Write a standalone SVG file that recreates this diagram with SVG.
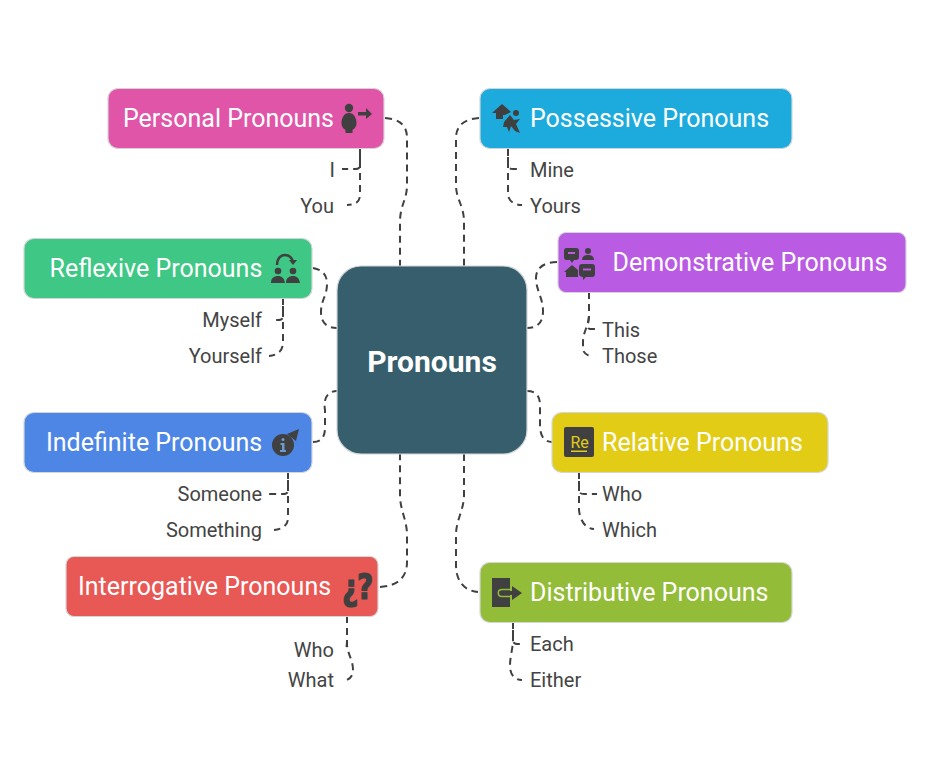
<svg xmlns="http://www.w3.org/2000/svg" width="936" height="780" viewBox="0 0 936 780">
<style>
.n{stroke:#d3d6d8;stroke-width:1.2}
.t{font-family:Roboto,"Liberation Sans",sans-serif;font-size:25px;fill:#fff}
.s{font-family:Roboto,"Liberation Sans",sans-serif;font-size:20px;fill:#444}
.e{text-anchor:end}
.c{fill:none;stroke:#404040;stroke-width:2;stroke-dasharray:7 5}
.i{fill:#404040}
.q{font-family:"DejaVu Sans",sans-serif;font-size:36px;font-weight:700;fill:#404040;stroke:#404040;stroke-width:1.200px}
</style>
<rect width="936" height="780" fill="#fff"/>
<g id="connectors">
<path class="c" d="M385 118C398 119 407 124 407 138V185C407 200 400 205 400 222V266"/>
<path class="c" d="M479 118C465 119 456 125 456 138V185C456 200 464 205 464 222V266"/>
<path class="c" d="M313 268C323 270 327 275 327 284C327 296 321 300 321 312C321 323 327 328 337 328"/>
<path class="c" d="M313 442C322 442 325 436 325 428V410C323 398 328 391 337 391"/>
<path class="c" d="M557 262C544 262 536 268 536 278C536 290 543 298 543 311C543 322 538 328 527 328"/>
<path class="c" d="M527 391C536 391 540 396 540 405V425C540 436 544 442 552 442"/>
<path class="c" d="M380 587C397 586 407 578 407 562V535C407 520 400 510 400 495V454"/>
<path class="c" d="M464 454V495C464 510 456 520 456 535V565C456 582 465 591 478 592"/>
<path class="c" d="M360 149V195C360 202 355 205 347 205"/>
<path class="c" stroke-dashoffset="6" d="M360 149V165C360 168 358 169 355 169H342"/>
<path class="c" d="M283 298V342C283 350 279 355 269 356"/>
<path class="c" stroke-dashoffset="4" d="M283 298V316C283 319 281 320 278 320H274"/>
<path class="c" d="M288 472V518C288 525 283 529 274 530"/>
<path class="c" stroke-dashoffset="4" d="M288 472V490C288 493 286 494 283 494H269"/>
<path class="c" d="M347 616V640C347 647 346 649 345 649"/>
<path class="c" d="M347 616V645C348 655 353 660 353 670C353 675 351 678 347 680"/>
<path class="c" d="M508 149V195C509 201 514 205 522 205"/>
<path class="c" stroke-dashoffset="4" d="M508 149V165C508 168 510 169 513 169H518"/>
<path class="c" d="M589 292V315C589 325 583 332 583 342V350C584 353 586 355 590 356"/>
<path class="c" d="M589 292V315C589 322 586 329 590 329H595"/>
<path class="c" d="M579 472V510C580 521 586 529 594 529"/>
<path class="c" stroke-dashoffset="3" d="M579 472V490C579 493 581 494 584 494H597"/>
<path class="c" d="M513 622V638C513 650 510 655 510 666C510 674 514 680 522 680"/>
<path class="c" stroke-dashoffset="4" d="M513 622V640C513 643 515 644 518 644H522"/>
</g>
<g id="center">
<rect class="n" x="337" y="266" width="190" height="188" rx="24" fill="#365e6c"/>
<text x="432" y="372" text-anchor="middle" font-family="Roboto,'Liberation Sans',sans-serif" font-size="30" font-weight="700" fill="#fff">Pronouns</text>
</g>
<g id="personal">
<rect class="n" x="108" y="88.500" width="276" height="60" rx="10" fill="#e055a8"/>
<text class="t" x="123" y="126.500">Personal Pronouns</text>
<circle class="i" cx="349" cy="108" r="4.200"/>
<path class="i" d="M349 113C344 113 341.500 118 341.500 123C341.500 127 344 129 345.500 130V133H352.500V130C354 129 356.500 127 356.500 123C356.500 118 354 113 349 113Z"/>
<path class="i" d="M358 112H366V108L372 114L366 119V115.500H358Z"/>
<text class="s e" x="335" y="177">I</text>
<text class="s e" x="334" y="213">You</text>
</g>
<g id="possessive">
<rect class="n" x="480" y="88.500" width="312" height="60" rx="10" fill="#1cabdc"/>
<text class="t" x="530" y="126.500">Possessive Pronouns</text>
<path class="i" d="M492 113L502 104L511 112L505 115H503V119H496V113Z"/>
<circle class="i" cx="516" cy="113" r="3"/>
<path class="i" d="M504 122L510 115L514 120L520 119L516 124L520 133L515 131L511 126L509 132L507 127L503 127Z"/>
<text class="s" x="530" y="177">Mine</text>
<text class="s" x="530" y="213">Yours</text>
</g>
<g id="reflexive">
<rect class="n" x="24" y="238.500" width="288" height="60" rx="10" fill="#3ec785"/>
<text class="t" x="49.500" y="276.500">Reflexive Pronouns</text>
<path fill="none" stroke="#404040" stroke-width="2.400" d="M277 265C277 258 281 255 285 255C289 255 292 258 293 262"/>
<path class="i" d="M289 260H297L293 265Z"/>
<circle class="i" cx="278" cy="271" r="3.300"/>
<circle class="i" cx="293" cy="271" r="3.300"/>
<path class="i" d="M271 283C271 278 274 276 278 276C282 276 284 278 285 283ZM286 283C286 278 289 276 293 276C297 276 299 278 300 283Z"/>
<text class="s e" x="262" y="327">Myself</text>
<text class="s e" x="262" y="363">Yourself</text>
</g>
<g id="demonstrative">
<rect class="n" x="558" y="232.500" width="348" height="60" rx="8" fill="#b95be3"/>
<text class="t" x="612.500" y="270.500">Demonstrative Pronouns</text>
<path class="i" d="M566 248H576C578 248 579 249 579 251V257C579 259 578 260 576 260H574L572 263L570 260H566C565 260 564 259 564 257V251C564 249 565 248 566 248Z"/>
<rect x="568" y="252" width="7" height="2" fill="#b95be3"/>
<circle class="i" cx="588" cy="251" r="3"/>
<path class="i" d="M582 260C582 256 585 255 588 255C591 255 594 256 594 260Z"/>
<path class="i" d="M564 272L572 265L578 270V277H566V272Z"/>
<path class="i" d="M582 264H592C594 264 595 265 595 267V274C595 276 594 277 592 277H586L583 280V277C581 277 579 276 579 274V267C579 265 580 264 582 264Z"/>
<rect x="583" y="268.500" width="8" height="2" fill="#b95be3"/>
<text class="s" x="602" y="337">This</text>
<text class="s" x="602" y="363">Those</text>
</g>
<g id="indefinite">
<rect class="n" x="24" y="412.500" width="288" height="60" rx="10" fill="#4d86e5"/>
<text class="t" x="46" y="450.500">Indefinite Pronouns</text>
<circle class="i" cx="283" cy="445" r="11"/>
<path class="i" d="M287 434L299 429L296 441Z"/>
<circle cx="283" cy="439.500" r="1.500" fill="#6a9ad0"/>
<path d="M280.500 443H284.500V450H286V452H280V450H282V445H280.500Z" fill="#6a9ad0"/>
<text class="s e" x="262" y="501">Someone</text>
<text class="s e" x="262" y="537">Something</text>
</g>
<g id="relative">
<rect class="n" x="552" y="412.500" width="276" height="60" rx="10" fill="#e2cc15"/>
<text class="t" x="602" y="450.500">Relative Pronouns</text>
<rect class="i" x="564" y="427" width="30" height="30" rx="2"/>
<text x="570.500" y="448" font-family="Roboto,'Liberation Sans',sans-serif" font-size="16" fill="#e2cc15">Re</text>
<rect x="571" y="450.500" width="16" height="1.500" fill="#e2cc15"/>
<text class="s" x="602" y="501">Who</text>
<text class="s" x="602" y="537">Which</text>
</g>
<g id="interrogative">
<rect class="n" x="66" y="556.500" width="312" height="60" rx="8" fill="#e85855"/>
<text class="t" x="78" y="594.500">Interrogative Pronouns</text>
<text class="q" transform="translate(342 600) scale(.78 1)">¿</text>
<text class="q" transform="translate(357 599) scale(.78 1)">?</text>
<text class="s e" x="334" y="657">Who</text>
<text class="s e" x="334" y="687">What</text>
</g>
<g id="distributive">
<rect class="n" x="480" y="562.500" width="312" height="60" rx="10" fill="#93bc38"/>
<text class="t" x="530" y="600.500">Distributive Pronouns</text>
<rect class="i" x="492" y="578" width="18" height="29"/>
<path fill="none" stroke="#93bc38" stroke-width="1.500" d="M510 589.500H502C497 589.500 497 596.500 502 596.500H510"/>
<path class="i" d="M502 591H512V586L522 593L512 600V595H502Z"/>
<text class="s" x="530" y="651">Each</text>
<text class="s" x="530" y="687">Either</text>
</g>
</svg>
